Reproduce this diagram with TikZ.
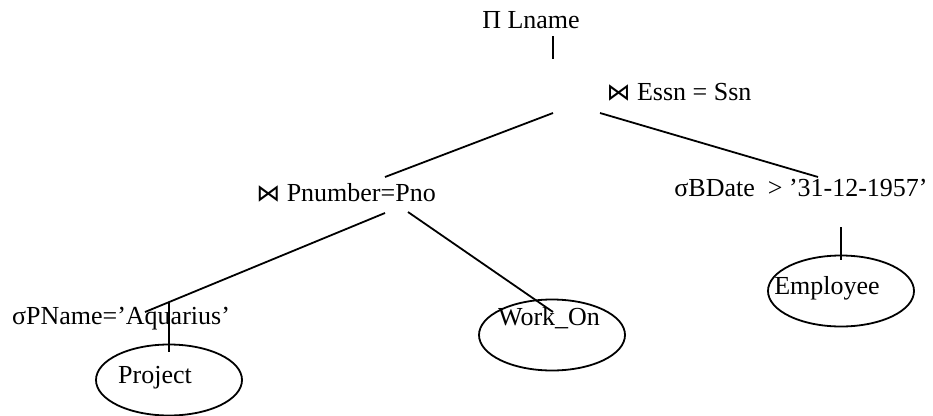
\documentclass[tikz,border=0pt]{standalone}
\usepackage{fontspec}
\setmainfont{Liberation Serif}
\newfontfamily\symfont{DejaVu Sans}
\newcommand{\joinop}{{\symfont\fontsize{24}{28}\selectfont ⋈}}
\usetikzlibrary{shapes.geometric}
\begin{document}
\begin{tikzpicture}[x=1pt,y=-1pt,
  lbl/.style={inner sep=0pt, font=\fontsize{26}{30}\selectfont},
  rel/.style={draw, ellipse, line width=1.8pt, minimum width=146pt, minimum height=71pt, inner sep=0pt},
  edge/.style={line width=1.8pt}]
\useasboundingbox (0,0) rectangle (933,415);

% operator labels
\node[lbl] (proj) at (531,20) {Π Lname};
\node[lbl] (join1) at (679,92) {\joinop\ Essn = Ssn};
\node[lbl] (join2) at (346,193) {\joinop\ Pnumber=Pno};
\node[lbl] (selP) at (121,319) {σPName=’Aquarius’};
\node[lbl] (selE) at (801,188) {σBDate\ \ > ’31-12-1957’};

% base relations
\node[rel] (project) at (169,380) {};
\node[lbl] (projectT) at (155,378) {Project};
\node[rel] (workon) at (552,335) {};
\node[lbl] (workonT) at (549,318) {Work\_On};
\node[rel] (employee) at (841,291) {};
\node[lbl] (employeeT) at (827,288) {Employee};

% connector end points
\coordinate (p1) at (553,36);   \coordinate (p2) at (553,59);
\coordinate (j1l) at (553,113); \coordinate (j1r) at (600,113);
\coordinate (j2top) at (385,177);
\coordinate (setop) at (818,177);
\coordinate (j2l) at (385,213); \coordinate (j2r) at (408,212);
\coordinate (aqend) at (145,312);
\coordinate (woend) at (553,312);
\coordinate (sp1) at (169,303); \coordinate (sp2) at (169,352);
\coordinate (se1) at (841,227); \coordinate (se2) at (841,260);

% connectors
\draw[edge] (p1) -- (p2);
\draw[edge] (j1l) -- (j2top);
\draw[edge] (j1r) -- (setop);
\draw[edge] (j2l) -- (aqend);
\draw[edge] (j2r) -- (woend);
\draw[edge] (sp1) -- (sp2);
\draw[edge] (se1) -- (se2);
\end{tikzpicture}
\end{document}
